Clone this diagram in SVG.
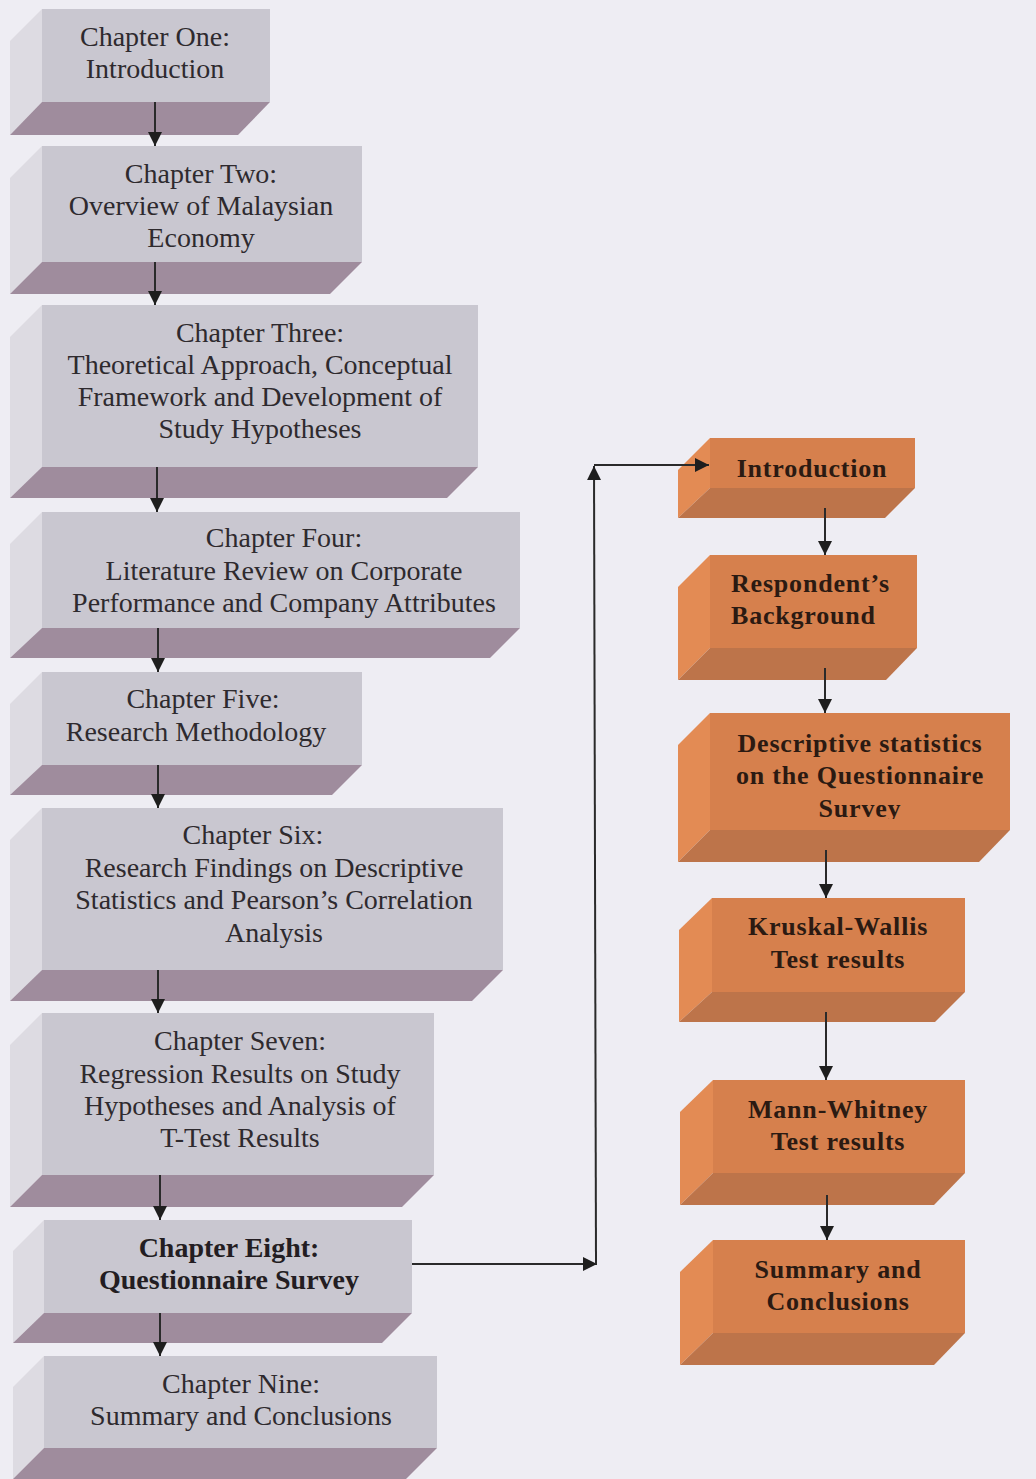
<svg xmlns="http://www.w3.org/2000/svg" width="1036" height="1479" viewBox="0 0 1036 1479">
<style>
.gf{fill:#c9c7d0}
.gl{fill:#dddbe2}
.gb{fill:#9f8c9d}
.of{fill:#d6804d}
.ol{fill:#e38b54}
.ob{fill:#bd744a}
.lt{font-family:"Liberation Serif","Times New Roman",serif;font-size:28px;fill:#2e2a2e;text-anchor:middle}
.lb{font-family:"Liberation Serif","Times New Roman",serif;font-size:28px;font-weight:bold;fill:#231d22;text-anchor:middle}
.rt{font-family:"Liberation Serif","Times New Roman",serif;font-size:26px;font-weight:bold;letter-spacing:0.8px;fill:#2b1a12;text-anchor:middle}
.cn{fill:none;stroke:#2a2a2a;stroke-width:2}
</style>
<defs>
<marker id="ah" viewBox="0 0 14 14" refX="14" refY="7" markerWidth="14" markerHeight="14" markerUnits="userSpaceOnUse" orient="auto">
<path d="M0,0 L14,7 L0,14 z" fill="#1e1e1e"/>
</marker>
<clipPath id="clipSurvey"><rect x="700" y="790" width="320" height="29"/></clipPath>
</defs>
<rect width="1036" height="1479" fill="#eeedf3"/>

<g id="ch1">
<polygon class="gl" points="42,9 10,41 10,135 42,102"/>
<rect class="gf" x="42" y="9" width="228" height="93"/>
<polygon class="gb" points="42,102 270,102 238,135 10,135"/>
<text class="lt" x="155" y="46">Chapter One:</text>
<text class="lt" x="155" y="78">Introduction</text>
</g>

<g id="ch2">
<polygon class="gl" points="42,146 10,178 10,294 42,262"/>
<rect class="gf" x="42" y="146" width="320" height="116"/>
<polygon class="gb" points="42,262 362,262 330,294 10,294"/>
<text class="lt" x="201" y="183">Chapter Two:</text>
<text class="lt" x="201" y="215">Overview of Malaysian</text>
<text class="lt" x="201" y="247">Economy</text>
</g>

<g id="ch3">
<polygon class="gl" points="42,305 10,337 10,498 42,467"/>
<rect class="gf" x="42" y="305" width="436" height="162"/>
<polygon class="gb" points="42,467 478,467 447,498 10,498"/>
<text class="lt" x="260" y="342">Chapter Three:</text>
<text class="lt" x="260" y="374">Theoretical Approach, Conceptual</text>
<text class="lt" x="260" y="406">Framework and Development of</text>
<text class="lt" x="260" y="438">Study Hypotheses</text>
</g>

<g id="ch4">
<polygon class="gl" points="42,512 10,544 10,658 42,628"/>
<rect class="gf" x="42" y="512" width="478" height="116"/>
<polygon class="gb" points="42,628 520,628 490,658 10,658"/>
<text class="lt" x="284" y="547">Chapter Four:</text>
<text class="lt" x="284" y="580">Literature Review on Corporate</text>
<text class="lt" x="284" y="612">Performance and Company Attributes</text>
</g>

<g id="ch5">
<polygon class="gl" points="42,672 10,704 10,795 42,765"/>
<rect class="gf" x="42" y="672" width="320" height="93"/>
<polygon class="gb" points="42,765 362,765 332,795 10,795"/>
<text class="lt" x="203" y="708">Chapter Five:</text>
<text class="lt" x="196" y="741">Research Methodology</text>
</g>

<g id="ch6">
<polygon class="gl" points="42,808 10,840 10,1001 42,970"/>
<rect class="gf" x="42" y="808" width="461" height="162"/>
<polygon class="gb" points="42,970 503,970 472,1001 10,1001"/>
<text class="lt" x="253" y="844">Chapter Six:</text>
<text class="lt" x="274" y="877">Research Findings on Descriptive</text>
<text class="lt" x="274" y="909">Statistics and Pearson’s Correlation</text>
<text class="lt" x="274" y="942">Analysis</text>
</g>

<g id="ch7">
<polygon class="gl" points="42,1013 10,1045 10,1207 42,1175"/>
<rect class="gf" x="42" y="1013" width="392" height="162"/>
<polygon class="gb" points="42,1175 434,1175 402,1207 10,1207"/>
<text class="lt" x="240" y="1050">Chapter Seven:</text>
<text class="lt" x="240" y="1083">Regression Results on Study</text>
<text class="lt" x="240" y="1115">Hypotheses and Analysis of</text>
<text class="lt" x="240" y="1147">T-Test Results</text>
</g>

<g id="ch8">
<polygon class="gl" points="44,1220 13,1251 13,1343 44,1313"/>
<rect class="gf" x="44" y="1220" width="368" height="93"/>
<polygon class="gb" points="44,1313 412,1313 382,1343 13,1343"/>
<text class="lb" x="229" y="1257">Chapter Eight:</text>
<text class="lb" x="229" y="1289">Questionnaire Survey</text>
</g>

<g id="ch9">
<polygon class="gl" points="44,1356 13,1387 13,1479 44,1448"/>
<rect class="gf" x="44" y="1356" width="393" height="92"/>
<polygon class="gb" points="44,1448 437,1448 406,1479 13,1479"/>
<text class="lt" x="241" y="1393">Chapter Nine:</text>
<text class="lt" x="241" y="1425">Summary and Conclusions</text>
</g>

<g id="r1">
<polygon class="ol" points="710,438 678,470 678,518 710,488"/>
<rect class="of" x="710" y="438" width="205" height="50"/>
<polygon class="ob" points="710,488 915,488 885,518 678,518"/>
<text class="rt" x="812" y="477">Introduction</text>
</g>

<g id="r2">
<polygon class="ol" points="710,555 678,587 678,680 710,648"/>
<rect class="of" x="710" y="555" width="207" height="93"/>
<polygon class="ob" points="710,648 917,648 886,680 678,680"/>
<text class="rt" x="731" y="592" style="text-anchor:start">Respondent’s</text>
<text class="rt" x="731" y="624" style="text-anchor:start">Background</text>
</g>

<g id="r3">
<polygon class="ol" points="710,713 678,745 678,862 710,830"/>
<rect class="of" x="710" y="713" width="300" height="117"/>
<polygon class="ob" points="710,830 1010,830 979,862 678,862"/>
<text class="rt" x="860" y="752">Descriptive statistics</text>
<text class="rt" x="860" y="784">on the Questionnaire</text>
<text class="rt" x="860" y="817" clip-path="url(#clipSurvey)">Survey</text>
</g>

<g id="r4">
<polygon class="ol" points="712,898 679,930 679,1022 712,992"/>
<rect class="of" x="712" y="898" width="253" height="94"/>
<polygon class="ob" points="712,992 965,992 935,1022 679,1022"/>
<text class="rt" x="838" y="935">Kruskal-Wallis</text>
<text class="rt" x="838" y="968">Test results</text>
</g>

<g id="r5">
<polygon class="ol" points="713,1080 680,1112 680,1205 713,1173"/>
<rect class="of" x="713" y="1080" width="252" height="93"/>
<polygon class="ob" points="713,1173 965,1173 934,1205 680,1205"/>
<text class="rt" x="838" y="1118">Mann-Whitney</text>
<text class="rt" x="838" y="1150">Test results</text>
</g>

<g id="r6">
<polygon class="ol" points="713,1240 680,1272 680,1365 713,1333"/>
<rect class="of" x="713" y="1240" width="252" height="93"/>
<polygon class="ob" points="713,1333 965,1333 934,1365 680,1365"/>
<text class="rt" x="838" y="1278">Summary and</text>
<text class="rt" x="838" y="1310">Conclusions</text>
</g>

<g id="connectors">
<line class="cn" x1="155" y1="102" x2="155" y2="146" marker-end="url(#ah)"/>
<line class="cn" x1="155" y1="262" x2="155" y2="305" marker-end="url(#ah)"/>
<line class="cn" x1="157" y1="467" x2="157" y2="512" marker-end="url(#ah)"/>
<line class="cn" x1="158" y1="628" x2="158" y2="672" marker-end="url(#ah)"/>
<line class="cn" x1="158" y1="765" x2="158" y2="808" marker-end="url(#ah)"/>
<line class="cn" x1="158" y1="970" x2="158" y2="1013" marker-end="url(#ah)"/>
<line class="cn" x1="160" y1="1175" x2="160" y2="1220" marker-end="url(#ah)"/>
<line class="cn" x1="160" y1="1313" x2="160" y2="1356" marker-end="url(#ah)"/>
<line class="cn" x1="412" y1="1264" x2="597" y2="1264" marker-end="url(#ah)"/>
<line class="cn" x1="596" y1="1264" x2="594" y2="466" marker-end="url(#ah)"/>
<line class="cn" x1="594" y1="465" x2="709" y2="465" marker-end="url(#ah)"/>
<line class="cn" x1="825" y1="508" x2="825" y2="555" marker-end="url(#ah)"/>
<line class="cn" x1="825" y1="668" x2="825" y2="713" marker-end="url(#ah)"/>
<line class="cn" x1="826" y1="850" x2="826" y2="898" marker-end="url(#ah)"/>
<line class="cn" x1="826" y1="1012" x2="826" y2="1080" marker-end="url(#ah)"/>
<line class="cn" x1="827" y1="1195" x2="827" y2="1240" marker-end="url(#ah)"/>
</g>
</svg>
